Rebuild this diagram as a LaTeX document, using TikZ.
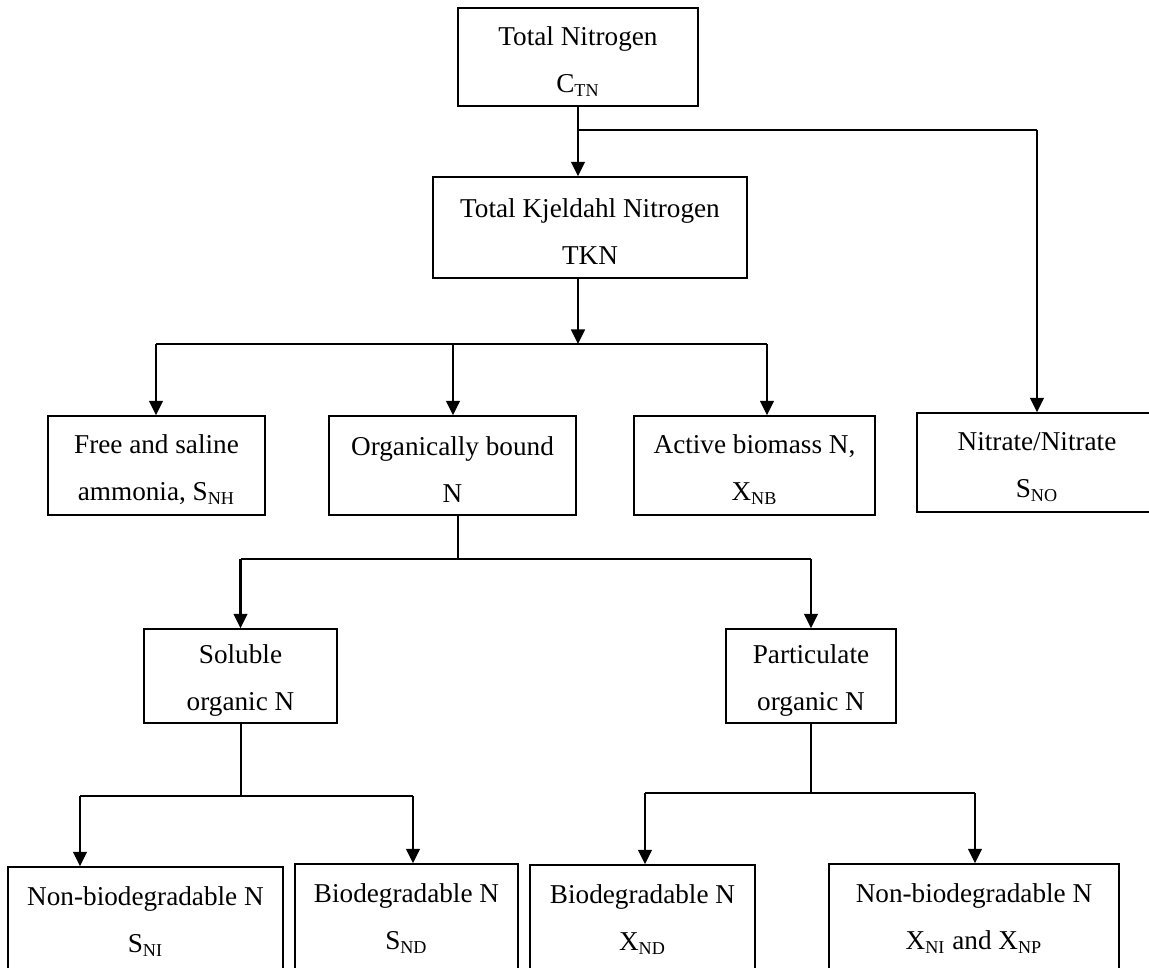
\documentclass[tikz,border=0pt]{standalone}
\usepackage{fontspec}
\setmainfont{Liberation Serif}
\usetikzlibrary{arrows.meta, positioning}
\newdimen\px \px=0.441pt
\newcommand{\twolines}[3][12.2pt]{\rule{0pt}{#1}#2\\#3}

\tikzset{
	box/.style={draw, line width=0.6pt, inner sep=0pt, align=center, font=\fontsize{12}{20.7}\selectfont},
	link/.style={line width=1.05pt},
	stem/.style={line width=0.5pt},
	arr/.style={line width=1.05pt, -{Triangle[length=6.4pt, width=6pt]}},
}

\begin{document}
\begin{tikzpicture}[x=0.441pt, y=-0.441pt]
	\path[use as bounding box, clip] (0,0) rectangle (1149,967);

	\node[box, minimum width=240\px, minimum height=98\px] (total) at (578,57) {\twolines{Total Nitrogen}{C\textsubscript{TN}}};
	\node[box, minimum width=314\px, minimum height=101\px] (tkn) at (590,227.5) {\twolines{Total Kjeldahl Nitrogen}{TKN}};

	\node[box, minimum width=217\px, minimum height=99\px] (ammonia) at (156.5,465.5) {\twolines{Free and saline}{ammonia, S\textsubscript{NH}}};
	\node[box, minimum width=247\px, minimum height=99\px] (organic) at (452.5,465.5) {\twolines{Organically bound}{N}};
	\node[box, minimum width=241\px, minimum height=99\px] (biomass) at (754.5,465.5) {\twolines{Active biomass N,}{X\textsubscript{NB}}};
	\node[box, minimum width=240\px, minimum height=99\px] (nitrate) at (1037,462.5) {\twolines{Nitrate/Nitrate}{S\textsubscript{NO}}};

	\node[box, minimum width=193\px, minimum height=94\px] (soluble) at (240.5,676) {\twolines{Soluble}{organic N}};
	\node[box, minimum width=170\px, minimum height=94\px] (particulate) at (811,676) {\twolines{Particulate}{organic N}};

	% bottom row runs past the lower edge
	\node[box, minimum width=275\px, minimum height=110\px] (sNI) at (145.5,922) {\twolines[0pt]{Non-biodegradable N}{S\textsubscript{NI}}};
	\node[box, minimum width=223\px, minimum height=110\px] (sND) at (406.5,919) {\twolines[0pt]{Biodegradable N}{S\textsubscript{ND}}};
	\node[box, minimum width=225\px, minimum height=110\px] (xND) at (642.5,920) {\twolines[0pt]{Biodegradable N}{X\textsubscript{ND}}};
	\node[box, minimum width=290\px, minimum height=110\px] (xNI) at (974,919) {\twolines[0pt]{Non-biodegradable N}{X\textsubscript{NI} and X\textsubscript{NP}}};

	% junction points
	\coordinate (j1) at (578,130);
	\coordinate (j2) at (578,344);
	\coordinate (j2l) at (156,344);
	\coordinate (j2m) at (453,344);
	\coordinate (j2r) at (767,344);
	\coordinate (j3) at (458,559);
	\coordinate (j4) at (241,796);
	\coordinate (j4l) at (80,796);
	\coordinate (j4r) at (413,796);
	\coordinate (j5) at (811,793);
	\coordinate (j5l) at (645,793);
	\coordinate (j5r) at (975,793);

	\draw[arr] (total.south -| j1) -- (j1 |- tkn.north);
	\draw[stem] (j1) -- (nitrate.north |- j1);
	\draw[arr] (nitrate.north |- j1) -- (nitrate.north);

	\draw[arr] (tkn.south -| j2) -- (j2);
	\draw[link] (j2l) -- (j2r);
	\draw[arr] (j2l) -- (j2l |- ammonia.north);
	\draw[arr] (j2m) -- (j2m |- organic.north);
	\draw[arr] (j2r) -- (j2r |- biomass.north);

	\draw[stem] (organic.south -| j3) -- (j3);
	\draw[link] (soluble.north |- j3) -- (particulate.north |- j3);
	\draw[arr] (soluble.north |- j3) -- (soluble.north);
	\draw[arr] (particulate.north |- j3) -- (particulate.north);

	\draw[stem] (soluble.south -| j4) -- (j4);
	\draw[link] (j4l) -- (j4r);
	\draw[arr] (j4l) -- (j4l |- sNI.north);
	\draw[arr] (j4r) -- (j4r |- sND.north);

	\draw[stem] (particulate.south -| j5) -- (j5);
	\draw[link] (j5l) -- (j5r);
	\draw[arr] (j5l) -- (j5l |- xND.north);
	\draw[arr] (j5r) -- (j5r |- xNI.north);
\end{tikzpicture}
\end{document}
